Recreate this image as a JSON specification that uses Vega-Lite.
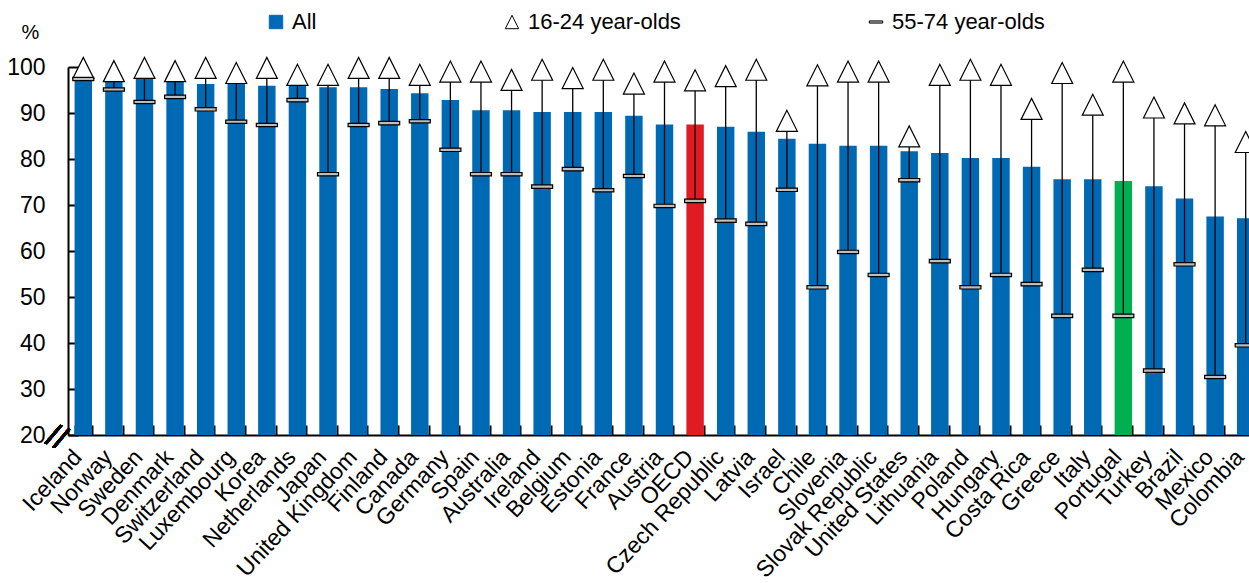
{
  "$schema": "https://vega.github.io/schema/vega-lite/v6.json",
  "autosize": {"type": "none"},
  "padding": {"left": 68, "top": 67, "right": 0, "bottom": 148},
  "width": 1193,
  "height": 368,
  "background": "white",
  "config": {
    "view": {"stroke": null},
    "font": "Liberation Sans"
  },
  "data": {
    "values": [
      {"country": "Iceland", "All": 98.2, "16-24 year-olds": 99.8, "55-74 year-olds": 97.4},
      {"country": "Norway", "All": 96.8, "16-24 year-olds": 99.1, "55-74 year-olds": 95.1},
      {"country": "Sweden", "All": 97.5, "16-24 year-olds": 99.8, "55-74 year-olds": 92.4},
      {"country": "Denmark", "All": 96.8, "16-24 year-olds": 99.1, "55-74 year-olds": 93.5},
      {"country": "Switzerland", "All": 96.3, "16-24 year-olds": 99.8, "55-74 year-olds": 90.8},
      {"country": "Luxembourg", "All": 96.3, "16-24 year-olds": 98.7, "55-74 year-olds": 88.1},
      {"country": "Korea", "All": 95.9, "16-24 year-olds": 99.8, "55-74 year-olds": 87.4},
      {"country": "Netherlands", "All": 95.9, "16-24 year-olds": 98.3, "55-74 year-olds": 92.8},
      {"country": "Japan", "All": 95.6, "16-24 year-olds": 98.3, "55-74 year-olds": 76.7},
      {"country": "United Kingdom", "All": 95.6, "16-24 year-olds": 99.8, "55-74 year-olds": 87.4},
      {"country": "Finland", "All": 95.2, "16-24 year-olds": 99.8, "55-74 year-olds": 87.8},
      {"country": "Canada", "All": 94.3, "16-24 year-olds": 98.3, "55-74 year-olds": 88.2},
      {"country": "Germany", "All": 92.8, "16-24 year-olds": 99.0, "55-74 year-olds": 82.0},
      {"country": "Spain", "All": 90.6, "16-24 year-olds": 99.0, "55-74 year-olds": 76.7},
      {"country": "Australia", "All": 90.6, "16-24 year-olds": 97.2, "55-74 year-olds": 76.7},
      {"country": "Ireland", "All": 90.2, "16-24 year-olds": 99.4, "55-74 year-olds": 74.0},
      {"country": "Belgium", "All": 90.2, "16-24 year-olds": 97.6, "55-74 year-olds": 77.8},
      {"country": "Estonia", "All": 90.2, "16-24 year-olds": 99.4, "55-74 year-olds": 73.2},
      {"country": "France", "All": 89.4, "16-24 year-olds": 96.4, "55-74 year-olds": 76.3},
      {"country": "Austria", "All": 87.5, "16-24 year-olds": 99.0, "55-74 year-olds": 69.8},
      {"country": "OECD", "All": 87.5, "16-24 year-olds": 97.1, "55-74 year-olds": 70.9},
      {"country": "Czech Republic", "All": 87.0, "16-24 year-olds": 98.0, "55-74 year-olds": 66.6},
      {"country": "Latvia", "All": 85.9, "16-24 year-olds": 99.4, "55-74 year-olds": 65.9},
      {"country": "Israel", "All": 84.4, "16-24 year-olds": 88.3, "55-74 year-olds": 73.3},
      {"country": "Chile", "All": 83.3, "16-24 year-olds": 98.2, "55-74 year-olds": 52.1},
      {"country": "Slovenia", "All": 82.9, "16-24 year-olds": 99.0, "55-74 year-olds": 59.8},
      {"country": "Slovak Republic", "All": 82.9, "16-24 year-olds": 99.0, "55-74 year-olds": 54.8},
      {"country": "United States", "All": 81.7, "16-24 year-olds": 84.9, "55-74 year-olds": 75.4},
      {"country": "Lithuania", "All": 81.3, "16-24 year-olds": 98.3, "55-74 year-olds": 57.8},
      {"country": "Poland", "All": 80.2, "16-24 year-olds": 99.4, "55-74 year-olds": 52.1},
      {"country": "Hungary", "All": 80.2, "16-24 year-olds": 98.3, "55-74 year-olds": 54.8},
      {"country": "Costa Rica", "All": 78.3, "16-24 year-olds": 90.9, "55-74 year-olds": 52.8},
      {"country": "Greece", "All": 75.6, "16-24 year-olds": 98.7, "55-74 year-olds": 45.9},
      {"country": "Italy", "All": 75.6, "16-24 year-olds": 91.8, "55-74 year-olds": 55.9},
      {"country": "Portugal", "All": 75.2, "16-24 year-olds": 99.0, "55-74 year-olds": 45.9},
      {"country": "Turkey", "All": 74.1, "16-24 year-olds": 91.2, "55-74 year-olds": 34.0},
      {"country": "Brazil", "All": 71.4, "16-24 year-olds": 89.9, "55-74 year-olds": 57.1},
      {"country": "Mexico", "All": 67.5, "16-24 year-olds": 89.5, "55-74 year-olds": 32.6},
      {"country": "Colombia", "All": 67.1, "16-24 year-olds": 83.7, "55-74 year-olds": 39.5}
    ]
  },
  "encoding": {
    "x": {
      "field": "country",
      "type": "nominal",
      "sort": null,
      "scale": {"paddingInner": 0.43, "paddingOuter": 0.215},
      "axis": {
        "title": null,
        "labelAngle": -47,
        "labelAlign": "right",
        "labelBaseline": "middle",
        "labelFont": "Liberation Sans",
        "labelFontSize": 23,
        "labelColor": "black",
        "labelPadding": 28,
        "labelOffset": -6,
        "labelOverlap": false,
        "labelLimit": 0,
        "tickBand": "extent",
        "tickSize": -10,
        "tickWidth": 2,
        "tickColor": "black",
        "domainColor": "black",
        "domainWidth": 2
      }
    }
  },
  "layer": [
    {
      "mark": {"type": "bar"},
      "encoding": {
        "y": {
          "field": "All",
          "type": "quantitative",
          "scale": {"domain": [20, 100], "nice": false, "zero": false},
          "axis": {
            "title": "%",
            "values": [20, 30, 40, 50, 60, 70, 80, 90, 100],
            "grid": false,
            "labelFont": "Liberation Sans",
            "labelFontSize": 23,
            "labelColor": "black",
            "labelPadding": 33,
            "tickSize": -10,
            "tickWidth": 2,
            "tickColor": "black",
            "domainColor": "black",
            "domainWidth": 2,
            "titleAngle": 0,
            "titleX": -38,
            "titleY": -35,
            "titleAlign": "center",
            "titleBaseline": "middle",
            "titleFont": "Liberation Sans",
            "titleFontSize": 20,
            "titleFontWeight": "normal",
            "titleColor": "black"
          }
        },
        "y2": {"datum": 20},
        "color": {
          "condition": [
            {"test": "datum.country === 'OECD'", "value": "#E01B22"},
            {"test": "datum.country === 'Portugal'", "value": "#00B050"}
          ],
          "value": "#0069B4"
        }
      }
    },
    {
      "mark": {"type": "rule", "color": "black", "strokeWidth": 1.3},
      "encoding": {
        "y": {"field": "55-74 year-olds", "type": "quantitative", "title": "%"},
        "y2": {"field": "16-24 year-olds"}
      }
    },
    {
      "transform": [
        {"fold": ["16-24 year-olds", "55-74 year-olds"], "as": ["series", "value"]}
      ],
      "mark": {"type": "point", "filled": true, "opacity": 1, "strokeWidth": 1.2, "size": 441},
      "encoding": {
        "y": {"field": "value", "type": "quantitative", "title": "%"},
        "shape": {
          "field": "series",
          "type": "nominal",
          "scale": {
            "domain": ["All", "16-24 year-olds", "55-74 year-olds"],
            "range": ["square", "M-1,1L0,-1L1,1Z", "M-1,-0.16L1,-0.16L1,0.16L-1,0.16Z"]
          },
          "legend": {
            "orient": "none",
            "direction": "horizontal",
            "legendX": 197,
            "legendY": -56,
            "title": null,
            "padding": 0,
            "labelFont": "Liberation Sans",
            "labelFontSize": 22,
            "labelColor": "black",
            "labelOffset": 5,
            "symbolSize": 180,
            "symbolStrokeWidth": 1,
            "columnPadding": 184
          }
        },
        "fill": {
          "field": "series",
          "type": "nominal",
          "scale": {
            "domain": ["All", "16-24 year-olds", "55-74 year-olds"],
            "range": ["#0069B4", "#FFFFFF", "#BDBDBD"]
          },
          "legend": {
            "orient": "none",
            "direction": "horizontal",
            "legendX": 197,
            "legendY": -56,
            "title": null,
            "padding": 0,
            "labelFont": "Liberation Sans",
            "labelFontSize": 22,
            "labelColor": "black",
            "labelOffset": 5,
            "symbolSize": 180,
            "symbolStrokeWidth": 1,
            "columnPadding": 184
          }
        },
        "stroke": {
          "field": "series",
          "type": "nominal",
          "scale": {
            "domain": ["All", "16-24 year-olds", "55-74 year-olds"],
            "range": ["#0069B4", "#000000", "#000000"]
          },
          "legend": {
            "orient": "none",
            "direction": "horizontal",
            "legendX": 197,
            "legendY": -56,
            "title": null,
            "padding": 0,
            "labelFont": "Liberation Sans",
            "labelFontSize": 22,
            "labelColor": "black",
            "labelOffset": 5,
            "symbolSize": 180,
            "symbolStrokeWidth": 1,
            "columnPadding": 184
          }
        }
      }
    },
    {
      "mark": {"type": "text", "text": "//", "font": "Liberation Sans", "fontSize": 32, "angle": 25, "dx": -15, "dy": 10, "color": "black"},
      "encoding": {
        "x": {"datum": "Iceland", "type": "nominal", "bandPosition": 0},
        "y": {"datum": 20, "type": "quantitative", "title": "%"}
      }
    }
  ]
}
